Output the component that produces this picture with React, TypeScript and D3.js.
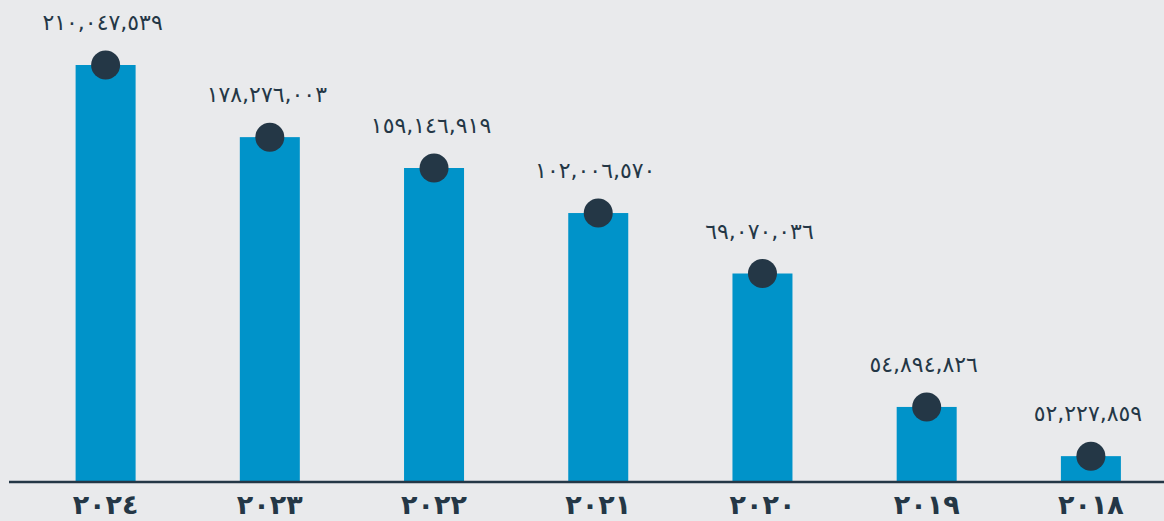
import React from 'react';
import * as d3 from 'd3';

// Yearly totals, newest on the left
const years = ['2024', '2023', '2022', '2021', '2020', '2019', '2018'];
const totals = [210047539, 178276003, 159146919, 102006570, 69070036, 54894826, 52227859];

// Bar heights follow a stepped (piecewise) level scale rather than a linear axis:
// each total maps to a share of the tallest bar.
const levelTotals = [0, 52227859, 54894826, 69070036, 102006570, 159146919, 178276003, 210047539];
const levelShares = [0, 0.062, 0.18, 0.5, 0.645, 0.753, 0.827, 1];

const W = 1164;
const H = 521;
const BG = '#E9EAEC';
const BAR = '#0093C9';
const INK = '#243746';
const FONT = '"DejaVu Sans", "Noto Sans", sans-serif';

const toArabicDigits = (s: string) =>
  s.replace(/\d/g, (d) => String.fromCharCode(0x0660 + Number(d)));
const fmt = d3.format(',');

export default function App() {
  const baseline = 482;
  const top = 65;
  const barW = 60;

  const x = d3.scalePoint<string>().domain(years).range([23.5, 1173]).padding(0.5);
  const share = d3.scaleLinear().domain(levelTotals).range(levelShares);
  const y = (v: number) => baseline - share(v) * (baseline - top);

  return (
    <svg
      width={W}
      height={H}
      style={{ position: 'absolute', left: 0, top: 0, display: 'block' }}
      fontFamily={FONT}
    >
      <rect x={0} y={0} width={W} height={H} fill={BG} />
      {years.map((yr, i) => {
        const cx = x(yr) as number;
        const yt = y(totals[i]);
        return (
          <g key={yr}>
            <rect x={cx - barW / 2} y={yt} width={barW} height={baseline - yt} fill={BAR} />
            <circle cx={cx} cy={yt} r={14.5} fill={INK} />
            <text
              x={cx - 3}
              y={yt - 35}
              textAnchor="middle"
              fontSize={22}
              fill={INK}
              direction="ltr"
            >
              {toArabicDigits(fmt(totals[i]))}
            </text>
            <text
              x={cx}
              y={514}
              textAnchor="middle"
              fontSize={27}
              fontWeight="bold"
              fill={INK}
              direction="ltr"
            >
              {toArabicDigits(yr)}
            </text>
          </g>
        );
      })}
      <line x1={9} x2={W} y1={baseline} y2={baseline} stroke={INK} strokeWidth={2.5} />
    </svg>
  );
}
